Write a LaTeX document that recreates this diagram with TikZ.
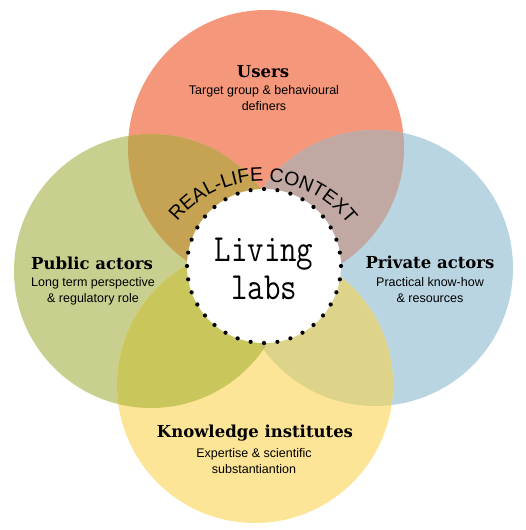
\documentclass[tikz,border=0pt]{standalone}
\usepackage{fontspec}
\newfontfamily\arialf{Liberation Sans}
\newfontfamily\slabf{DejaVu Serif}
\usetikzlibrary{decorations.text}
\definecolor{cUsers}{HTML}{F4977B}
\definecolor{cPublic}{HTML}{C9CF8F}
\definecolor{cPrivate}{HTML}{B9D5E1}
\definecolor{cKnow}{HTML}{FDE597}
\definecolor{cUPub}{HTML}{C5A352}
\definecolor{cUPriv}{HTML}{C1A8A2}
\definecolor{cPubK}{HTML}{C9C65B}
\definecolor{cPrivK}{HTML}{DDD48A}
\definecolor{cPubPrivK}{HTML}{C2BC5E}
\tikzset{
  titletext/.style={inner sep=0pt, font=\slabf\bfseries\fontsize{16.5}{20}\selectfont},
  subtext/.style={inner sep=0pt, align=center, font=\arialf\fontsize{12.5}{16}\selectfont},
  dotring/.style={circle, inner sep=0pt, minimum size=154pt, fill=white, draw=black,
    line width=4.2pt, line cap=round, dash pattern=on 0pt off 13.44pt}
}
\begin{document}
\begin{tikzpicture}[x=1pt,y=1pt]
\useasboundingbox (0,0) rectangle (526,530);
\coordinate (cU) at (266,382);
\coordinate (cPub) at (151,259);
\coordinate (cPriv) at (375,262);
\coordinate (cK) at (255,145);
\coordinate (arcC) at (262,240);
% base circles
\fill[cUsers] (cU) circle[radius=138];
\fill[cPublic] (cPub) circle[radius=137];
\fill[cPrivate] (cPriv) circle[radius=138];
\fill[cKnow] (cK) circle[radius=138];
% overlaps
\begin{scope}
  \clip (cU) circle[radius=138];
  \fill[cUPub] (cPub) circle[radius=137];
  \fill[cUPriv] (cPriv) circle[radius=138];
\end{scope}
\begin{scope}
  \clip (cK) circle[radius=138];
  \fill[cPubK] (cPub) circle[radius=137];
  \fill[cPrivK] (cPriv) circle[radius=138];
  \clip (cPub) circle[radius=137];
  \fill[cPubPrivK] (cPriv) circle[radius=138];
\end{scope}
% centre
\node[dotring] (ring) at (264,264) {};
\node[inner sep=0pt, align=center, yscale=1.2, transform shape,
  font=\ttfamily\fontsize{32}{32}\selectfont] (living) at (264,261) {Living\\labs};
\path[decorate, decoration={text along path, text align=fit to path,
  text={|\arialf\fontsize{19.5}{19.5}\selectfont|REAL-LIFE CONTEXT}}]
  (arcC) ++(141.3:108.6) arc[start angle=141.3, end angle=38.7, radius=108.6];
% labels
\node[titletext] (tU) at (263,458) {Users};
\node[subtext] (sU) at (264,432) {Target group \& behavioural\\definers};
\node[titletext] (tPub) at (92,267) {Public actors};
\node[subtext] (sPub) at (93,238.5) {Long term perspective\\\& regulatory role};
\node[titletext] (tPriv) at (430,268) {Private actors};
\node[subtext] (sPriv) at (430,240) {Practical know-how\\\& resources};
\node[titletext] (tK) at (255,97) {Knowledge institutes};
\node[subtext] (sK) at (254,69) {Expertise \& scientific\\substantiantion};
\end{tikzpicture}
\end{document}
